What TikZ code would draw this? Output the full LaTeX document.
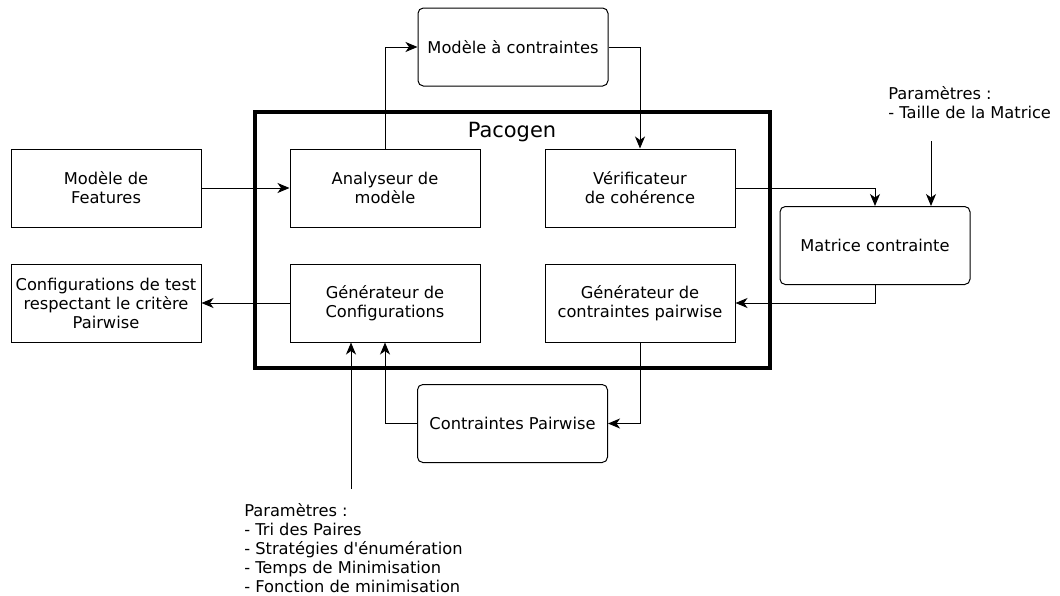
\documentclass[tikz,border=0pt]{standalone}
\usepackage{fontspec}
\setmainfont{DejaVu Sans}
\usetikzlibrary{arrows.meta}
\newcommand{\bx}{\fontsize{12.2}{14.25}\selectfont}

\begin{document}
\begin{tikzpicture}[
  x=0.75pt, y=-0.75pt,
  font=\bx,
  >={Stealth[length=9pt, width=7.5pt, inset=2.6pt]},
  box/.style={draw, line width=0.75pt, fill=white, align=center,
              inner sep=0pt, minimum width=142.5pt, minimum height=58.5pt},
  rbox/.style={box, rounded corners=4pt},
  frame/.style={draw, line width=3pt, inner sep=0pt,
                minimum width=386.25pt, minimum height=192pt},
  flow/.style={->, line width=0.75pt},
  params/.style={align=left, inner sep=0pt, anchor=west},
]
\useasboundingbox (0,0) rectangle (1060,596);

% ---------------------------- the tool ------------------------------------
\node[frame] (pacogen) at (512.5,240) {};
\node[font=\fontsize{15.7}{18}\selectfont] (titre) at (512,132) {Pacogen};

\node[box] (analyseur) at (385,188) {Analyseur de\\modèle};
\node[box] (verif)     at (640,188) {Vérificateur\\de cohérence};
\node[box] (gconf)     at (385,303) {Générateur de\\Configurations};
\node[box] (gcp)       at (640,303) {Générateur de\\contraintes pairwise};

% ---------------------------- around it -----------------------------------
\node[box] (features) at (106,188) {Modèle de\\Features};
\node[box] (configs)  at (106,303)
  {Configurations de test\\respectant le critère\\Pairwise};

\node[rbox] (mac)      at (513,47)    {Modèle à contraintes};
\node[rbox] (matrice)  at (875,245.5) {Matrice contrainte};
\node[rbox] (cp)       at (512.5,423.5) {Contraintes Pairwise};

% ---------------------------- parameters ----------------------------------
\node[params] (parmat) at (888,102.5)
  {Paramètres :\\- Taille de la Matrice};
\node[params] (pargen) at (244,548)
  {Paramètres :\\- Tri des Paires\\- Stratégies d\textquotesingle énumération\\
   - Temps de Minimisation\\- Fonction de minimisation};

\coordinate (inmat) at (931,141);
\coordinate (ingen) at (351,489);

% ---------------------------- flow ----------------------------------------
\draw[flow] (features.east)  -- (analyseur.west);
\draw[flow] (gconf.west)     -- (configs.east);

\draw[flow] (analyseur.north) |- (mac.west);
\draw[flow] (mac.east)        -| (verif.north);

\draw[flow] (verif.east)    -| (matrice.north);
\draw[flow] (inmat)         -- (inmat |- matrice.north);
\draw[flow] (matrice.south) |- (gcp.east);

\draw[flow] (gcp.south) |- (cp.east);
\draw[flow] (cp.west)   -| (gconf.south);
\draw[flow] (ingen)     -- (ingen |- gconf.south);

\end{tikzpicture}
\end{document}
